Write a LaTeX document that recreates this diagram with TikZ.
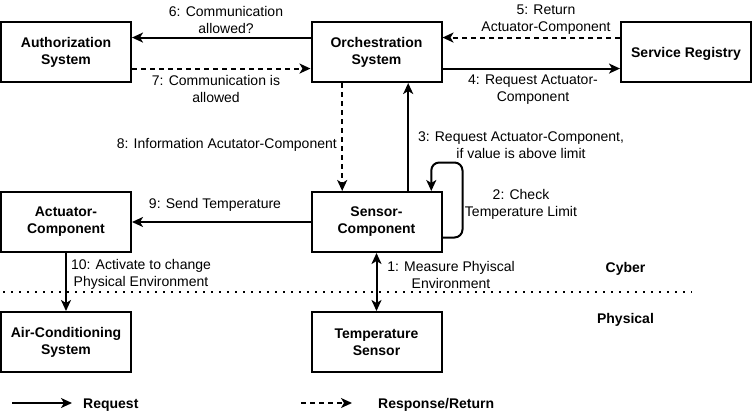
\documentclass[tikz,border=0pt]{standalone}
\usepackage{fontspec}
\setmainfont{Liberation Sans}
\usetikzlibrary{arrows.meta,calc}
\begin{document}
\begin{tikzpicture}[x=1pt,y=-1pt,
  box/.style={draw,line width=2pt,minimum width=130pt,minimum height=60pt,inner sep=0pt,align=center,font=\fontsize{14}{17}\selectfont\bfseries,execute at begin node={\rule{0pt}{14pt}}},
  lbl/.style={align=center,font=\fontsize{14}{17}\selectfont,inner sep=0pt},
  blbl/.style={lbl,font=\fontsize{14}{17}\selectfont\bfseries},
  tip/.tip={Stealth[length=11pt,width=10pt,inset=3pt]},
  req/.style={line width=2pt,-tip},
  resp/.style={req,dash pattern=on 5pt off 4pt},
  dotline/.style={line width=2pt,dash pattern=on 2pt off 6pt},
]
\useasboundingbox (0,0) rectangle (752,413);

% boxes
\node[box] (auth) at (66,52) {Authorization\\System};
\node[box] (orch) at (376.5,52) {Orchestration\\System};
\node[box] (sr) at (686,52) {Service Registry};
\node[box] (act) at (66,222) {Actuator-\\Component};
\node[box] (sens) at (376.5,222) {Sensor-\\Component};
\node[box] (ac) at (66,342) {Air-Conditioning\\System};
\node[box] (ts) at (376.5,342) {Temperature\\Sensor};

% connectors
\draw[req] ($(orch.north west)!0.267!(orch.south west)$) -- ($(auth.north east)!0.267!(auth.south east)$);
\draw[resp] ($(auth.north east)!0.767!(auth.south east)$) -- ($(orch.north west)!0.767!(orch.south west)$);
\draw[resp] ($(sr.north west)!0.267!(sr.south west)$) -- ($(orch.north east)!0.267!(orch.south east)$);
\draw[req] ($(orch.north east)!0.767!(orch.south east)$) -- ($(sr.north west)!0.767!(sr.south west)$);
\draw[resp] ($(orch.south west)!0.24!(orch.south east)$) -- ($(sens.north west)!0.24!(sens.north east)$);
\draw[req] ($(sens.north west)!0.74!(sens.north east)$) -- ($(orch.south west)!0.74!(orch.south east)$);
\coordinate (lp) at ($(sens.north west)!0.915!(sens.north east)$);
\draw[req,rounded corners=8pt] ($(sens.north east)!0.75!(sens.south east)$) -- ++(20,0) -- ++(0,-75) -| (lp);
\draw[req] (sens.west) -- (act.east);
\draw[req] (act.south) -- (ac.north);
\draw[line width=2pt,tip-tip] (sens.south) -- (ts.north);

% labels
\node[lbl] (l6) at (226,20) {6: Communication\\allowed?};
\node[lbl] (l7) at (216,88.5) {7: Communication is\\allowed};
\node[lbl] (l5) at (546,20) {5: Return\\Actuator-Component};
\node[lbl] (l4) at (533,90) {4: Request Actuator-\\Component};
\node[lbl,anchor=east] (l8) at (337,145) {8: Information Acutator-Component};
\node[lbl] (l3) at (521,145) {3: Request Actuator-Component,\\if value is above limit};
\node[lbl] (l2) at (521,204.5) {2: Check\\Temperature Limit};
\node[lbl] (l9) at (215,205) {9: Send Temperature};
\node[lbl] (l10) at (141,274) {10: Activate to change\\Physical Environment};
\node[lbl] (l1) at (451,275) {1: Measure Phyiscal\\Environment};
\node[blbl] (cy) at (625.5,269) {Cyber};
\node[blbl] (ph) at (625.5,320) {Physical};

% cyber/physical border
\coordinate (dl) at (3,292);
\coordinate (dr) at (692,292);
\draw[dotline] (dl) -- (dr);

% legend
\coordinate (r1) at (12,403);
\coordinate (r2) at (72,403);
\draw[req,line width=1.5pt] (r1) -- (r2);
\node[blbl,anchor=west] (lr) at (83,405) {Request};
\coordinate (s1) at (301,403);
\coordinate (s2) at (352,403);
\draw[resp,line width=1.5pt] (s1) -- (s2);
\node[blbl,anchor=west] (ls) at (378,405) {Response/Return};
\end{tikzpicture}
\end{document}
